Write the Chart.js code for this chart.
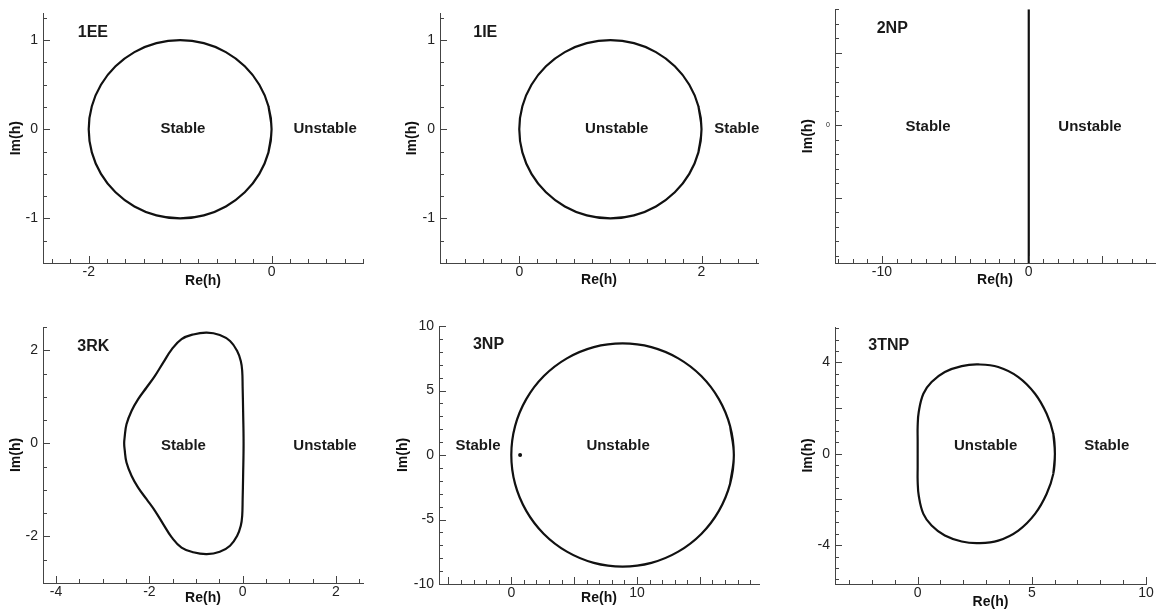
<!DOCTYPE html>
<html>
<head>
<meta charset="utf-8">
<title>Stability regions</title>
<script src="https://cdn.jsdelivr.net/npm/chart.js@4.4.0/dist/chart.umd.min.js"></script>
<style>
  body { margin: 0; background: #fff; width: 1163px; height: 611px; position: relative; overflow: hidden; }
  canvas { position: absolute; }
</style>
</head>
<body>
<canvas id="c1" width="390" height="300" style="left:0;top:0"></canvas>
<canvas id="c2" width="390" height="300" style="left:390px;top:0"></canvas>
<canvas id="c3" width="383" height="300" style="left:780px;top:0"></canvas>
<canvas id="c4" width="390" height="311" style="left:0;top:300px"></canvas>
<canvas id="c5" width="390" height="311" style="left:390px;top:300px"></canvas>
<canvas id="c6" width="383" height="311" style="left:780px;top:300px"></canvas>
<script>
// 1EE boundary
const eeRe = [0, -0.034, -0.134, -0.293, -0.5, -0.741, -1, -1.259, -1.5, -1.707, -1.866, -1.966, -2, -1.966, -1.866, -1.707, -1.5, -1.259, -1, -0.741, -0.5, -0.293, -0.134, -0.034, 0];
const eeIm = [0, 0.259, 0.5, 0.707, 0.866, 0.966, 1, 0.966, 0.866, 0.707, 0.5, 0.259, 0, -0.259, -0.5, -0.707, -0.866, -0.966, -1, -0.966, -0.866, -0.707, -0.5, -0.259, 0];
// 1IE boundary
const ieRe = [2, 1.966, 1.866, 1.707, 1.5, 1.259, 1, 0.741, 0.5, 0.293, 0.134, 0.034, 0, 0.034, 0.134, 0.293, 0.5, 0.741, 1, 1.259, 1.5, 1.707, 1.866, 1.966, 2];
const ieIm = [0, 0.259, 0.5, 0.707, 0.866, 0.966, 1, 0.966, 0.866, 0.707, 0.5, 0.259, 0, -0.259, -0.5, -0.707, -0.866, -0.966, -1, -0.966, -0.866, -0.707, -0.5, -0.259, 0];
// 2NP boundary (imaginary axis)
const np2Re = [0, 0];
const np2Im = [-9.5, 8];
// 3RK boundary
const rkRe = [0.02, 0.01, 0, -0.01, -0.04, -0.12, -0.27, -0.49, -0.77, -1.06, -1.31, -1.52, -1.70, -1.88, -2.06, -2.24, -2.38, -2.49, -2.53, -2.54, -2.53, -2.49, -2.38, -2.24, -2.06, -1.88, -1.70, -1.52, -1.31, -1.06, -0.77, -0.49, -0.27, -0.12, -0.04, -0.01, 0, 0.01, 0.02];
const rkIm = [0, 0.7, 1.2, 1.56, 1.77, 1.99, 2.20, 2.33, 2.38, 2.34, 2.24, 2.02, 1.74, 1.45, 1.20, 0.95, 0.70, 0.41, 0.13, 0, -0.13, -0.41, -0.70, -0.95, -1.20, -1.45, -1.74, -2.02, -2.24, -2.34, -2.38, -2.33, -2.20, -1.99, -1.77, -1.56, -1.2, -0.7, 0];
// 3NP boundary + stray point
const np3Re = [17.7, 17.40, 16.51, 15.11, 13.28, 11.14, 8.85, 6.56, 4.42, 2.59, 1.19, 0.30, 0, 0.30, 1.19, 2.59, 4.42, 6.56, 8.85, 11.14, 13.28, 15.11, 16.51, 17.40, 17.7];
const np3Im = [0, 2.24, 4.33, 6.12, 7.49, 8.36, 8.65, 8.36, 7.49, 6.12, 4.33, 2.24, 0, -2.24, -4.33, -6.12, -7.49, -8.36, -8.65, -8.36, -7.49, -6.12, -4.33, -2.24, 0];
const np3DotRe = [0.7];
const np3DotIm = [0];
// 3TNP boundary
const tnpRe = [6.01, 5.94, 5.65, 5.14, 4.41, 3.53, 2.66, 1.93, 1.19, 0.61, 0.25, 0.05, 0, 0, 0, 0, 0, 0.05, 0.25, 0.61, 1.19, 1.93, 2.66, 3.53, 4.41, 5.14, 5.65, 5.94, 6.01];
const tnpIm = [0, 0.88, 1.75, 2.63, 3.36, 3.80, 3.91, 3.84, 3.58, 3.14, 2.63, 1.85, 1.2, 0.6, 0, -0.6, -1.2, -1.85, -2.63, -3.14, -3.58, -3.84, -3.91, -3.80, -3.36, -2.63, -1.75, -0.88, 0];

// tick labels
const eeXTicks = [-2, 0], eeYTicks = [-1, 0, 1];
const ieXTicks = [0, 2], ieYTicks = [-1, 0, 1];
const np2XTicks = [-10, 0], np2YTicks = [0];
const rkXTicks = [-4, -2, 0, 2], rkYTicks = [-2, 0, 2];
const np3XTicks = [0, 10], np3YTicks = [-10, -5, 0, 5, 10];
const tnpXTicks = [0, 5, 10], tnpYTicks = [-4, 0, 4];

const FONT = "'Liberation Sans', Arial, Helvetica, sans-serif";
Chart.defaults.font.family = FONT;

function toPoints(re, im) {
    return re.map((x, i) => ({ x: x, y: im[i] }));
}

// closed curve: repeat neighbours so the spline has no kink at the seam
function closed(re, im) {
    const p = toPoints(re, im);
    const n = p.length;
    return [p[n - 2]].concat(p, [p[1]]);
}

// inward tick marks like the original plot
function tickMarks(st) {
    return {
        id: 'tickMarks',
        afterDraw(chart) {
            const ctx = chart.ctx, xs = chart.scales.x, ys = chart.scales.y;
            ctx.save();
            ctx.strokeStyle = '#444';
            ctx.lineWidth = 1;
            function run(scale, minor, major, horiz) {
                const n0 = Math.ceil(scale.min / minor - 1e-6), n1 = Math.floor(scale.max / minor + 1e-6);
                for (let i = n0; i <= n1; i++) {
                    const v = i * minor, r = v / major;
                    const len = Math.abs(r - Math.round(r)) < 1e-6 ? 7 : 4;
                    const p = Math.round(scale.getPixelForValue(v)) + 0.5;
                    ctx.beginPath();
                    if (horiz) { ctx.moveTo(p, xs.top); ctx.lineTo(p, xs.top - len); }
                    else { ctx.moveTo(ys.right, p); ctx.lineTo(ys.right + len, p); }
                    ctx.stroke();
                }
            }
            run(xs, st.xMinor, st.xMajor, true);
            run(ys, st.yMinor, st.yMajor, false);
            ctx.restore();
        }
    };
}

// region labels placed in data coordinates
function regionLabels(items) {
    return {
        id: 'regionLabels',
        afterDatasetsDraw(chart) {
            const ctx = chart.ctx;
            ctx.save();
            ctx.fillStyle = '#1a1a1a';
            ctx.textBaseline = 'middle';
            items.forEach(it => {
                ctx.font = it.font;
                ctx.textAlign = it.align;
                ctx.fillText(it.text, chart.scales.x.getPixelForValue(it.x), chart.scales.y.getPixelForValue(it.y));
            });
            ctx.restore();
        }
    };
}

const TITLE = 'bold 16px ' + FONT;
const REGION = 'bold 15px ' + FONT;

function panel(id, p) {
    const datasets = p.curves.map(c => ({
        data: c.data,
        showLine: c.line !== false,
        borderColor: '#111',
        backgroundColor: '#111',
        borderWidth: 2.2,
        pointRadius: c.dot ? 0.9 : 0,
        tension: c.tension || 0
    }));
    new Chart(document.getElementById(id), {
        type: 'scatter',
        data: { datasets: datasets },
        options: {
            responsive: false,
            animation: false,
            events: [],
            layout: { padding: { top: p.top, right: p.right, left: 0, bottom: 0 } },
            plugins: { legend: { display: false }, tooltip: { enabled: false } },
            scales: {
                x: {
                    type: 'linear', min: p.x[0], max: p.x[1],
                    afterBuildTicks: a => { a.ticks = p.xTicks.map(v => ({ value: v })); },
                    afterFit: s => { s.height = p.xh; },
                    grid: { display: false, drawTicks: false },
                    border: { display: true, color: '#444', width: 1 },
                    ticks: { color: '#222', font: { size: 14 }, padding: 1, maxRotation: 0, autoSkip: false, callback: v => String(v) },
                    title: { display: true, text: 'Re(h)', color: '#111', font: { size: 14, weight: 'bold' }, padding: { top: 0, bottom: p.xtp } }
                },
                y: {
                    type: 'linear', min: p.y[0], max: p.y[1],
                    afterBuildTicks: a => { a.ticks = p.yTicks.map(v => ({ value: v })); },
                    afterFit: s => { s.width = p.yw; },
                    grid: { display: false, drawTicks: false },
                    border: { display: true, color: '#444', width: 1 },
                    ticks: { color: '#222', font: { size: p.ySize || 14 }, padding: 5, autoSkip: false, callback: v => String(v) },
                    title: { display: true, text: 'Im(h)', color: '#111', font: { size: 14, weight: 'bold' }, padding: { top: p.ytp, bottom: 0 } }
                }
            }
        },
        plugins: [tickMarks(p.steps), regionLabels(p.labels)]
    });
}

panel('c1', {
    x: [-2.5, 1.0], y: [-1.5, 1.3], xTicks: eeXTicks, yTicks: eeYTicks,
    top: 6, right: 27, xh: 37, yw: 43, xtp: 10.6, ytp: 7.6,
    steps: { xMinor: 0.2, xMajor: 2, yMinor: 0.25, yMajor: 1 },
    curves: [{ data: closed(eeRe, eeIm), tension: 0.4 }],
    labels: [
        { text: '1EE', x: -2.12, y: 1.08, font: TITLE, align: 'left' },
        { text: 'Stable', x: -0.97, y: 0, font: REGION, align: 'center' },
        { text: 'Unstable', x: 0.585, y: 0, font: REGION, align: 'center' }
    ]
});

panel('c2', {
    x: [-0.87, 2.62], y: [-1.5, 1.3], xTicks: ieXTicks, yTicks: ieYTicks,
    top: 6, right: 22, xh: 37, yw: 50, xtp: 11.6, ytp: 13.3,
    steps: { xMinor: 0.2, xMajor: 2, yMinor: 0.25, yMajor: 1 },
    curves: [{ data: closed(ieRe, ieIm), tension: 0.4 }],
    labels: [
        { text: '1IE', x: -0.505, y: 1.08, font: TITLE, align: 'left' },
        { text: 'Unstable', x: 1.07, y: 0, font: REGION, align: 'center' },
        { text: 'Stable', x: 2.387, y: 0, font: REGION, align: 'center' }
    ]
});

panel('c3', {
    x: [-13.2, 8.6], y: [-9.5, 8.0], xTicks: np2XTicks, yTicks: np2YTicks, ySize: 7,
    top: 6, right: 8, xh: 37, yw: 55, xtp: 11.6, ytp: 19.6,
    steps: { xMinor: 1, xMajor: 5, yMinor: 1, yMajor: 5 },
    curves: [{ data: toPoints(np2Re, np2Im) }],
    labels: [
        { text: '2NP', x: -10.36, y: 6.64, font: TITLE, align: 'left' },
        { text: 'Stable', x: -6.86, y: -0.1, font: REGION, align: 'center' },
        { text: 'Unstable', x: 4.17, y: -0.1, font: REGION, align: 'center' }
    ]
});

panel('c4', {
    x: [-4.28, 2.58], y: [-3.0, 2.5], xTicks: rkXTicks, yTicks: rkYTicks,
    top: 27, right: 27, xh: 28, yw: 43, xtp: 4.3, ytp: 7.3,
    steps: { xMinor: 0.5, xMajor: 2, yMinor: 0.5, yMajor: 2 },
    curves: [{ data: closed(rkRe, rkIm), tension: 0.4 }],
    labels: [
        { text: '3RK', x: -3.545, y: 2.08, font: TITLE, align: 'left' },
        { text: 'Stable', x: -1.27, y: -0.06, font: REGION, align: 'center' },
        { text: 'Unstable', x: 1.765, y: -0.06, font: REGION, align: 'center' }
    ]
});

panel('c5', {
    x: [-5.75, 19.7], y: [-10, 10], xTicks: np3XTicks, yTicks: np3YTicks,
    top: 26, right: 21, xh: 27, yw: 49, xtp: 4.3, ytp: 4.3,
    steps: { xMinor: 1, xMajor: 5, yMinor: 1, yMajor: 5 },
    curves: [
        { data: closed(np3Re, np3Im), tension: 0.4 },
        { data: toPoints(np3DotRe, np3DotIm), line: false, dot: true }
    ],
    labels: [
        { text: '3NP', x: -3.05, y: 8.53, font: TITLE, align: 'left' },
        { text: 'Stable', x: -2.65, y: 0.7, font: REGION, align: 'center' },
        { text: 'Unstable', x: 8.49, y: 0.7, font: REGION, align: 'center' }
    ]
});

panel('c6', {
    x: [-3.62, 10], y: [-5.7, 5.55], xTicks: tnpXTicks, yTicks: tnpYTicks,
    top: 27, right: 17, xh: 27, yw: 55, xtp: 0.9, ytp: 19.6,
    steps: { xMinor: 1, xMajor: 5, yMinor: 0.5, yMajor: 2 },
    curves: [{ data: closed(tnpRe, tnpIm), tension: 0.4 }],
    labels: [
        { text: '3TNP', x: -2.16, y: 4.72, font: TITLE, align: 'left' },
        { text: 'Unstable', x: 2.98, y: 0.34, font: REGION, align: 'center' },
        { text: 'Stable', x: 8.28, y: 0.34, font: REGION, align: 'center' }
    ]
});
</script>
</body>
</html>
